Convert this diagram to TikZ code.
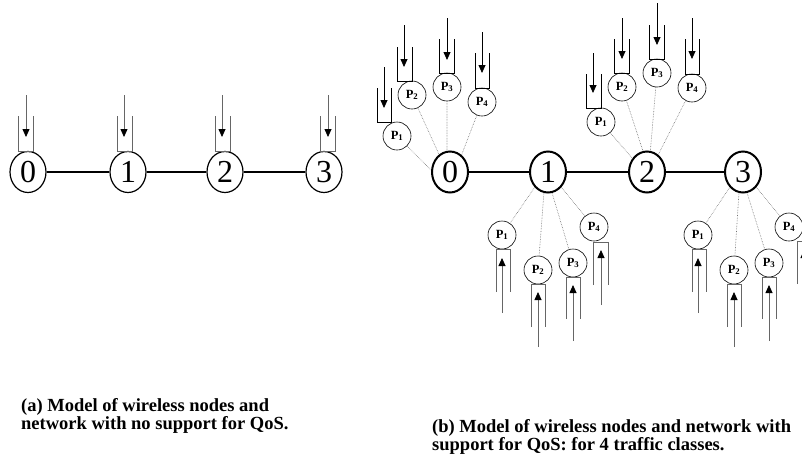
\documentclass[tikz,border=0pt]{standalone}
\usepackage{fontspec}
\setmainfont{Liberation Serif}
\usetikzlibrary{arrows.meta,shapes.geometric}
\newcommand\qq[8][black]{%
  \draw[qbox,#1] (#2,#4) -- (#2,#5) -- (#3,#5) -- (#3,#4);
  \draw[qarrow,#1] (#6,#7) -- (#6,#8);}
\begin{document}
\begin{tikzpicture}[x=1pt,y=-1pt,
  bigL/.style={draw, ellipse, line width=1.2pt, minimum width=36pt, minimum height=41pt, inner sep=0pt, font=\fontsize{32}{32}\selectfont},
  bigR/.style={bigL, line width=2pt},
  pnode/.style={draw, circle, line width=0.6pt, minimum size=28pt, inner sep=0pt, font=\fontsize{12.5}{12.5}\selectfont\bfseries},
  link/.style={line width=1.3pt},
  linkR/.style={line width=2pt},
  spoke/.style={black!55, densely dotted, line width=0.6pt},
  qbox/.style={line width=0.8pt},
  qarrow/.style={line width=0.8pt, -{Triangle[length=8pt,width=7pt,color=black]}},
  captext/.style={anchor=base west, inner sep=0pt, font=\fontsize{18.5}{18.5}\selectfont\bfseries}
]
\useasboundingbox (0,0) rectangle (802,461);
\clip (0,0) rectangle (802,461);

% ---------- (a) ----------
\node[bigL] (l0) at (28,172) {0};
\node[bigL] (l1) at (128,172) {1};
\node[bigL] (l2) at (225,172) {2};
\node[bigL] (l3) at (324,172) {3};
\draw[link] (l0) -- (l1);
\draw[link] (l1) -- (l2);
\draw[link] (l2) -- (l3);
\qq[black!60]{18}{33}{116}{151}{26}{95}{137}
\qq[black!60]{117}{132}{116}{151}{124}{95}{137}
\qq[black!60]{215}{230}{116}{151}{222}{95}{137}
\qq[black!60]{320}{335}{116}{151}{328}{95}{137}

% ---------- (b) ----------
\node[bigR] (r0) at (450,172) {0};
\node[bigR] (r1) at (548,172) {1};
\node[bigR] (r2) at (647,172) {2};
\node[bigR] (r3) at (743,172) {3};
\draw[linkR] (r0) -- (r1);
\draw[linkR] (r1) -- (r2);
\draw[linkR] (r2) -- (r3);

% node 0 classes
\node[pnode] (a1) at (397,136) {P\textsubscript{1}};
\node[pnode] (a2) at (412,95) {P\textsubscript{2}};
\node[pnode] (a3) at (447,87) {P\textsubscript{3}};
\node[pnode] (a4) at (482,102) {P\textsubscript{4}};
\draw[spoke] (a1) -- (r0.174);
\draw[spoke] (a2) -- (r0.122);
\draw[spoke] (a3) -- (r0.98);
\draw[spoke] (a4) -- (r0.56);
\qq{377}{391}{88}{122}{384}{67}{108}
\qq{397}{412}{47}{81}{404}{25}{67}
\qq{439}{454}{39}{73}{447}{18}{60}
\qq{475}{489}{53}{88}{482}{32}{73}

% node 2 classes
\node[pnode] (c1) at (601,122) {P\textsubscript{1}};
\node[pnode] (c2) at (622,87) {P\textsubscript{2}};
\node[pnode] (c3) at (657,73) {P\textsubscript{3}};
\node[pnode] (c4) at (692,88) {P\textsubscript{4}};
\draw[spoke] (c1) -- (r2.137);
\draw[spoke] (c2) -- (r2.101);
\draw[spoke] (c3) -- (r2.81);
\draw[spoke] (c4) -- (r2.57);
\qq{586}{601}{74}{108}{593}{53}{93}
\qq{614}{629}{39}{73}{622}{18}{59}
\qq{649}{664}{25}{59}{657}{3}{45}
\qq{685}{699}{39}{74}{692}{18}{59}

% node 1 classes
\node[pnode] (b1) at (502,235) {P\textsubscript{1}};
\node[pnode] (b2) at (538,270) {P\textsubscript{2}};
\node[pnode] (b3) at (573,263) {P\textsubscript{3}};
\node[pnode] (b4) at (594,227) {P\textsubscript{4}};
\draw[spoke] (b1) -- (r1.229);
\draw[spoke] (b2) -- (r1.259);
\draw[spoke] (b3) -- (r1.281);
\draw[spoke] (b4) -- (r1.311);
\qq[black!60]{496}{510}{292}{249}{502}{313}{258}
\qq[black!60]{531}{545}{327}{284}{538}{347}{292}
\qq[black!60]{566}{580}{319}{277}{573}{341}{285}
\qq[black!60]{593}{608}{285}{242}{601}{305}{250}

% node 3 classes
\node[pnode] (d1) at (698,235) {P\textsubscript{1}};
\node[pnode] (d2) at (734,270) {P\textsubscript{2}};
\node[pnode] (d3) at (769,263) {P\textsubscript{3}};
\node[pnode] (d4) at (789,227) {P\textsubscript{4}};
\draw[spoke] (d1) -- (r3.229);
\draw[spoke] (d2) -- (r3.259);
\draw[spoke] (d3) -- (r3.281);
\draw[spoke] (d4) -- (r3.311);
\qq[black!60]{692}{706}{292}{249}{698}{313}{258}
\qq[black!60]{727}{741}{327}{284}{734}{347}{292}
\qq[black!60]{762}{776}{319}{277}{769}{341}{285}
\qq[black!60]{797}{812}{284}{241}{804}{305}{250}

% captions
\node[captext] (ca1) at (21,411) {(a) Model of wireless nodes and};
\node[captext] (ca2) at (21,429) {network with no support for QoS.};
\node[captext] (cb1) at (432,432) {(b) Model of wireless nodes and network with};
\node[captext] (cb2) at (432,450) {support for QoS: for 4 traffic classes.};
\end{tikzpicture}
\end{document}
